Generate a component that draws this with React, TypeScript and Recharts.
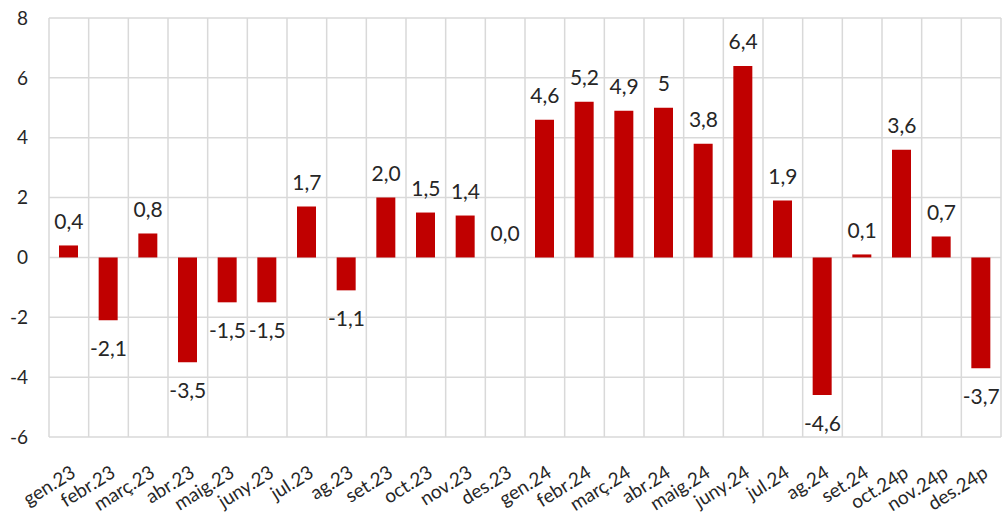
import { ComposedChart, Bar, Line, XAxis, YAxis, CartesianGrid } from 'recharts'

const MONTHS = [
  'gen.23', 'febr.23', 'març.23', 'abr.23', 'maig.23', 'juny.23', 'jul.23', 'ag.23',
  'set.23', 'oct.23', 'nov.23', 'des.23', 'gen.24', 'febr.24', 'març.24', 'abr.24',
  'maig.24', 'juny.24', 'jul.24', 'ag.24', 'set.24', 'oct.24p', 'nov.24p', 'des.24p',
]
const VALUES = [
  0.4, -2.1, 0.8, -3.5, -1.5, -1.5, 1.7, -1.1,
  2.0, 1.5, 1.4, 0.0, 4.6, 5.2, 4.9, 5.0,
  3.8, 6.4, 1.9, -4.6, 0.1, 3.6, 0.7, -3.7,
]
const LABELS = [
  '0,4', '-2,1', '0,8', '-3,5', '-1,5', '-1,5', '1,7', '-1,1',
  '2,0', '1,5', '1,4', '0,0', '4,6', '5,2', '4,9', '5',
  '3,8', '6,4', '1,9', '-4,6', '0,1', '3,6', '0,7', '-3,7',
]
const Y_TICKS = [-6, -4, -2, 0, 2, 4, 6, 8]

const data = MONTHS.map((month, i) => ({ month, value: VALUES[i], label: LABELS[i] }))

const FONT = 'Lato, "Open Sans", sans-serif'
const TEXT = '#262626'
const GRID = '#d9d9d9'
const RED = '#c00000'

function XTick({ x, y, payload }: { x?: number; y?: number; payload?: { value: string } }) {
  return (
    <text
      transform={`translate(${(x ?? 0) + 8},${(y ?? 0) + 37}) rotate(-32)`}
      textAnchor="end"
      fontFamily={FONT}
      fontSize={19}
      fill={TEXT}
    >
      {payload?.value}
    </text>
  )
}

// labels sit on an invisible line so the zero bar still gets one
function PointLabel(props: any) {
  const { x, y, index } = props
  const neg = VALUES[index] < 0
  const cy = neg ? y + 28 : y - 24
  return (
    <text
      x={x}
      y={cy}
      dy="0.36em"
      textAnchor="middle"
      fontFamily={FONT}
      fontSize={21}
      fill={TEXT}
    >
      {LABELS[index]}
    </text>
  )
}

export default function App() {
  return (
    <div style={{ position: 'absolute', left: 0, top: 0, background: '#fff' }}>
      <ComposedChart
        width={1002}
        height={513}
        data={data}
        margin={{ top: 18, right: 1, bottom: 0, left: 0 }}
      >
        <CartesianGrid
          stroke={GRID}
          strokeWidth={1.5}
          verticalCoordinatesGenerator={({ offset }: any) =>
            Array.from({ length: MONTHS.length + 1 }, (_, i) => offset.left + (i * offset.width) / MONTHS.length)
          }
        />
        <XAxis
          dataKey="month"
          interval={0}
          height={76}
          axisLine={false}
          tickLine={false}
          tickSize={0}
          tick={<XTick />}
        />
        <YAxis
          domain={[-6, 8]}
          ticks={Y_TICKS}
          interval={0}
          width={49}
          axisLine={false}
          tickLine={false}
          tickSize={0}
          tickMargin={21}
          tick={{ fontFamily: FONT, fontSize: 19, fill: TEXT }}
        />
        <Bar dataKey="value" fill={RED} barSize={19} isAnimationActive={false} />
        <Line
          dataKey="value"
          stroke="none"
          dot={false}
          activeDot={false}
          isAnimationActive={false}
          label={<PointLabel />}
        />
      </ComposedChart>
    </div>
  )
}
